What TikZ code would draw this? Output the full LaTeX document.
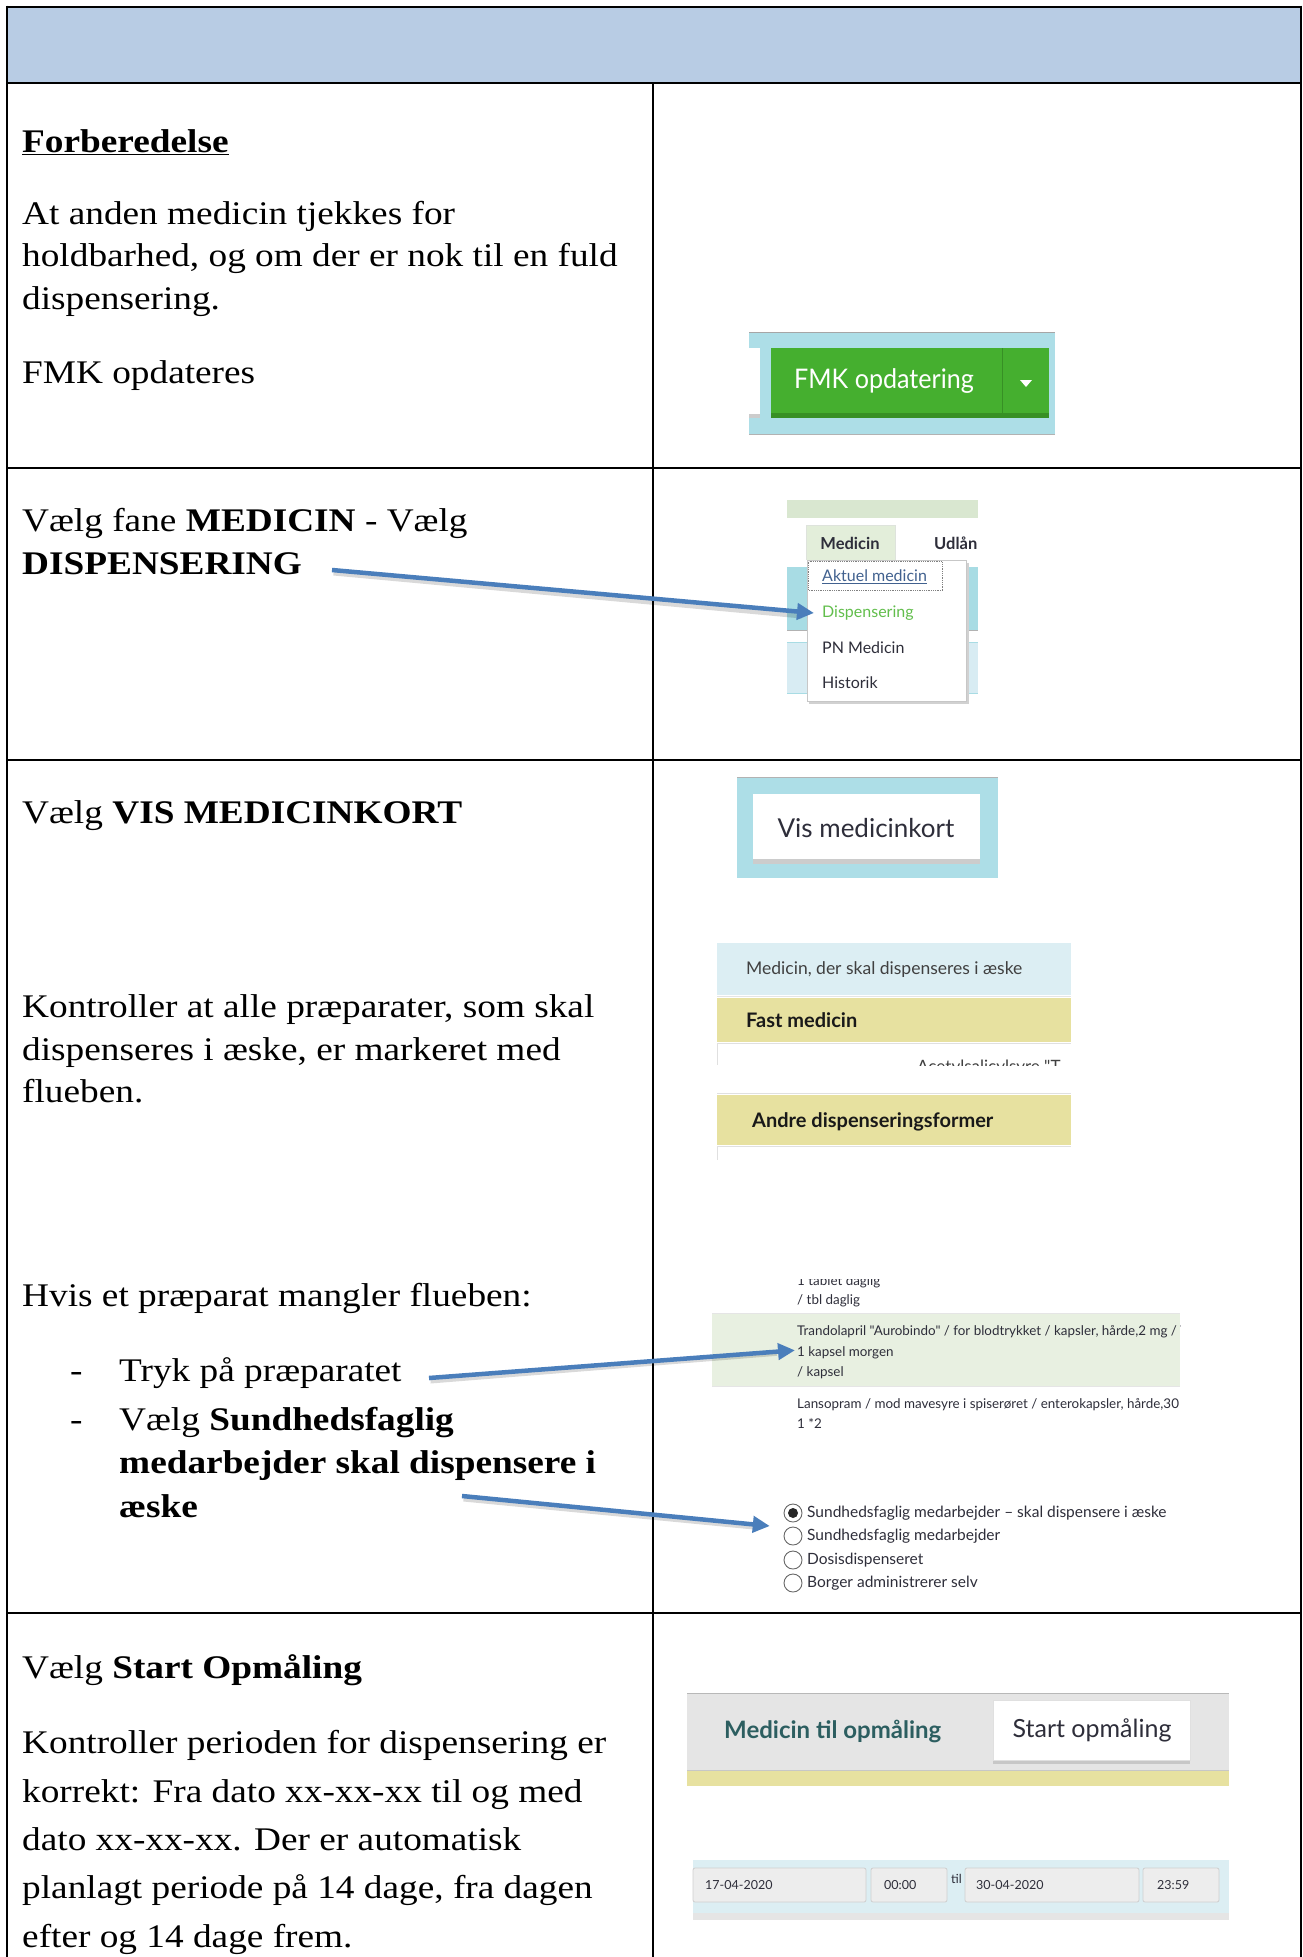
\documentclass[tikz,border=0pt]{standalone}
\usepackage{fontspec}
\usepackage{graphicx}
\setmainfont{Liberation Serif}
\newfontfamily\ui{Lato}
\usetikzlibrary{arrows.meta,calc}
\newcommand{\wideT}[1]{\scalebox{1.13}[1]{#1}}
\definecolor{hdr}{HTML}{B8CCE4}
\definecolor{arr}{HTML}{4A7EBB}
\definecolor{fmkbg}{HTML}{ADDEE7}
\definecolor{fmkgreen}{HTML}{45AF2F}
\definecolor{fmkdark}{HTML}{379025}
\definecolor{topgreen}{HTML}{D9E7D0}
\definecolor{tabgreen}{HTML}{E3EEDA}
\definecolor{tealband}{HTML}{A8DCE4}
\definecolor{paleband}{HTML}{D8ECF3}
\definecolor{linkblue}{HTML}{41618F}
\definecolor{dispgreen}{HTML}{62BE4C}
\definecolor{uitext}{HTML}{2E2E3A}
\definecolor{paleblue}{HTML}{DCEEF3}
\definecolor{uiyellow}{HTML}{E7E1A0}
\definecolor{rowgreen}{HTML}{E8F0E1}
\definecolor{tealtext}{HTML}{2C5E60}
\definecolor{fieldgrey}{HTML}{EDEDED}
\definecolor{fieldline}{HTML}{CFCFCF}
\begin{document}
\begin{tikzpicture}[x=1pt,y=-1pt,
  body/.style={anchor=base west, inner sep=0pt, font=\fontsize{33}{40}\selectfont},
  ui/.style={inner sep=0pt, text=uitext, font=\ui\fontsize{#1}{#1}\selectfont},
  uib/.style={inner sep=0pt, text=uitext, font=\ui\bfseries\fontsize{#1}{#1}\selectfont},
  tbl/.style={line width=2.6pt, black},
  pointer/.style={draw=arr, line width=4.5pt, -{Triangle[length=17pt,width=16pt]}},
  pshadow/.style={draw=black, opacity=0.15, line width=5pt},
  field/.style={draw=fieldline, fill=fieldgrey, rounded corners=2pt, line width=0.8pt}]
\useasboundingbox (0,0) rectangle (1303,1957);
\fill[white] (0,0) rectangle (1303,1957);

% ---------- table ----------
\fill[hdr] (7,7) rectangle (1301,83);
\draw[tbl] (7,7) -- (1301,7);
\draw[tbl] (7,83) -- (1301,83);
\draw[tbl] (7,468) -- (1301,468);
\draw[tbl] (7,760) -- (1301,760);
\draw[tbl] (7,1613) -- (1301,1613);
\draw[tbl] (7,5.7) -- (7,1960);
\draw[tbl] (1301,5.7) -- (1301,1960);
\draw[tbl] (653,83) -- (653,1960);

% ---------- row 1 ----------
\node[body] (t1) at (22,152) {\wideT{\textbf{\underline{Forberedelse}}}};
\node[body] (t2) at (22,224) {\wideT{At anden medicin tjekkes for}};
\node[body] (t3) at (22,266) {\wideT{holdbarhed, og om der er nok til en fuld}};
\node[body] (t4) at (22,309) {\wideT{dispensering.}};
\node[body] (t5) at (22,383) {\wideT{FMK opdateres}};

\fill[fmkbg] (749,332) rectangle (1055,435);
\draw[black!35, line width=1.2pt] (749,332.5) -- (1055,332.5);
\draw[black!30, line width=1pt] (749,434.5) -- (1055,434.5);
\fill[white] (749,348) rectangle (760,414);
\fill[black!20] (749,414) rectangle (760,418);
\fill[fmkgreen] (771,348) rectangle (1049,418);
\fill[fmkdark] (771,413) rectangle (1049,418);
\draw[fmkdark, line width=1pt] (1002,348) -- (1002,413);
\node[inner sep=0pt, text=white, font=\ui\fontsize{27}{27}\selectfont] (fmk) at (884,381) {\scalebox{0.93}[1]{FMK opdatering}};
\fill[white] (1020,380) -- (1032,380) -- (1026,387) -- cycle;

% ---------- row 2 ----------
\node[body] (t6) at (22,531) {\wideT{Vælg fane \textbf{MEDICIN} - Vælg}};
\node[body] (t7) at (22,574) {\wideT{\textbf{DISPENSERING}}};

\fill[topgreen] (787,500) rectangle (978,518);
\fill[tealband] (787,567) rectangle (978,630);
\draw[black!30, line width=1pt] (787,630) -- (978,630);
\fill[paleband] (787,642) rectangle (978,693);
\draw[tealband, line width=1pt] (787,642) -- (978,642);
\draw[tealband, line width=1pt] (787,693) -- (978,693);
\fill[tabgreen] (806,525) rectangle (895,560);
\draw[topgreen!80!black!40, line width=0.6pt] (806,560) -- (806,525) -- (895,525) -- (895,560);
\node[uib=16.5] (tabm) at (850,543) {Medicin};
\begin{scope}
\clip (900,520) rectangle (978,565);
\node[uib=16.5, anchor=west] (tabu) at (934,543) {Udlån};
\end{scope}
\fill[black!18] (809,563) rectangle (969,704);
\filldraw[fill=white, draw=black!22, line width=0.8pt] (807,560) rectangle (966,701);
\draw[black!50, densely dotted, line width=0.8pt] (808.5,561.5) rectangle (942,590);
\node[ui=16, anchor=west, text=linkblue] (akt) at (822,577) {\underline{Aktuel medicin}};
\node[ui=16, anchor=west, text=dispgreen] (disp) at (822,613) {Dispensering};
\node[ui=16, anchor=west] (pn) at (822,648) {PN Medicin};
\node[ui=16, anchor=west] (hist) at (822,683) {Historik};

% ---------- row 3 ----------
\node[body] (t8) at (22,823) {\wideT{Vælg \textbf{VIS MEDICINKORT}}};
\node[body] (t9) at (22,1017) {\wideT{Kontroller at alle præparater, som skal}};
\node[body] (t10) at (22,1060) {\wideT{dispenseres i æske, er markeret med}};
\node[body] (t11) at (22,1102) {\wideT{flueben.}};
\node[body] (t12) at (22,1306) {\wideT{Hvis et præparat mangler flueben:}};
\node[body] (d1) at (70,1381) {\wideT{-}};
\node[body] (t13) at (119,1381) {\wideT{Tryk på præparatet}};
\node[body] (d2) at (70,1430) {\wideT{-}};
\node[body] (t14) at (119,1430) {\wideT{Vælg \textbf{Sundhedsfaglig}}};
\node[body] (t15) at (119,1473) {\wideT{\textbf{medarbejder skal dispensere i}}};
\node[body] (t16) at (119,1517) {\wideT{\textbf{æske}}};

% Vis medicinkort button
\fill[fmkbg] (737,777) rectangle (998,878);
\draw[black!30, line width=1.2pt] (737,777.5) -- (998,777.5);
\fill[black!20] (753,794) rectangle (980,864);
\fill[white] (753,794) rectangle (980,859);
\node[ui=26] (vis) at (866,828) {Vis medicinkort};

% Medicin box
\fill[paleblue] (717,943) rectangle (1071,995);
\fill[uiyellow] (717,998) rectangle (1071,1042);
\draw[black!10, line width=1pt] (717,996.5) -- (1071,996.5);
\draw[black!12, line width=1pt] (717,1043) -- (1071,1043);
\node[ui=17.5, anchor=west, text=black!75] (mdsk) at (746,970) {Medicin, der skal dispenseres i æske};
\node[uib=20, anchor=west, text=black!90] (fast) at (746,1020) {Fast medicin};
\begin{scope}
\clip (717,1044) rectangle (1071,1065);
\node[ui=17, anchor=base west, text=black!75] (acet) at (917,1072) {Acetylsalicylsyre "T};
\end{scope}
\draw[black!12, line width=1pt] (717,1043) -- (717,1065);
\draw[black!12, line width=1pt] (717,1093) -- (1071,1093);
\fill[uiyellow] (717,1095) rectangle (1071,1145);
\draw[black!12, line width=1pt] (717,1146) -- (1071,1146);
\draw[black!12, line width=1pt] (717,1146) -- (717,1160);
\node[uib=20, anchor=west, text=black!90] (andre) at (752,1122) {Andre dispenseringsformer};

% medicine list
\begin{scope}
\clip (705,1279) rectangle (1180,1445);
\fill[rowgreen] (712,1313) rectangle (1180,1386);
\draw[black!10, line width=1pt] (712,1313) -- (1180,1313);
\draw[black!10, line width=1pt] (712,1386.5) -- (1180,1386.5);
\node[ui=13.4, anchor=base west] (l1) at (797,1285) {1 tablet daglig};
\node[ui=13.4, anchor=base west] (l2) at (797,1304) {/ tbl daglig};
\node[ui=13.4, anchor=base west] (l3) at (797,1335) {Trandolapril "Aurobindo" / for blodtrykket / kapsler, hårde,2 mg / Trandolapril};
\node[ui=13.4, anchor=base west] (kap) at (797,1356) {1 kapsel morgen};
\node[ui=13.4, anchor=base west] (l5) at (797,1376) {/ kapsel};
\node[ui=13.4, anchor=base west] (l6) at (797,1408) {Lansopram / mod mavesyre i spiserøret / enterokapsler, hårde,30 mg};
\node[ui=13.4, anchor=base west] (l7) at (797,1428) {1 *2};
\end{scope}

% radio buttons
\filldraw[fill=white, draw=black!60, line width=0.9pt] (793,1513) circle (9);
\fill[black!85] (793,1513) circle (5);
\node[inner sep=0pt, minimum size=18pt] (r1) at (793,1513) {};
\filldraw[fill=white, draw=black!60, line width=0.9pt] (793,1536) circle (9);
\filldraw[fill=white, draw=black!60, line width=0.9pt] (793,1560) circle (9);
\filldraw[fill=white, draw=black!60, line width=0.9pt] (793,1583) circle (9);
\node[ui=15.5, anchor=west] (o1) at (807,1513) {Sundhedsfaglig medarbejder – skal dispensere i æske};
\node[ui=15.5, anchor=west] (o2) at (807,1536) {Sundhedsfaglig medarbejder};
\node[ui=15.5, anchor=west] (o3) at (807,1560) {Dosisdispenseret};
\node[ui=15.5, anchor=west] (o4) at (807,1583) {Borger administrerer selv};

% ---------- row 4 ----------
\node[body] (t17) at (22,1678) {\wideT{Vælg \textbf{Start Opmåling}}};
\node[body] (t18) at (22,1753) {\wideT{Kontroller perioden for dispensering er}};
\node[body] (t19) at (22,1802) {\wideT{korrekt: Fra dato xx-xx-xx til og med}};
\node[body] (t20) at (22,1850) {\wideT{dato xx-xx-xx. Der er automatisk}};
\node[body] (t21) at (22,1898) {\wideT{planlagt periode på 14 dage, fra dagen}};
\node[body] (t22) at (22,1947) {\wideT{efter og 14 dage frem.}};

\fill[black!10] (687,1693) rectangle (1229,1770);
\draw[black!28, line width=1.4pt] (687,1693.5) -- (1229,1693.5);
\draw[black!22, line width=1pt] (687,1770) -- (1229,1770);
\fill[uiyellow] (687,1771) rectangle (1229,1786);
\fill[black!22] (993,1700) rectangle (1190,1764);
\filldraw[fill=white, draw=black!12, line width=0.6pt] (993,1700) rectangle (1190,1760);
\node[uib=24, anchor=west, text=tealtext] (mto) at (724,1731) {Medicin til opmåling};
\node[ui=25] (start) at (1092,1730) {Start opmåling};

\fill[paleblue] (693,1860) rectangle (1229,1913);
\fill[black!10] (693,1913) rectangle (1229,1920);
\draw[field] (693,1868) rectangle (866,1902);
\draw[field] (871,1868) rectangle (947,1902);
\draw[field] (965,1868) rectangle (1139,1902);
\draw[field] (1143,1868) rectangle (1219,1902);
\node[ui=12.5, anchor=west] (f1) at (705,1885) {17-04-2020};
\node[ui=12.5, anchor=west] (f2) at (884,1885) {00:00};
\node[ui=12.5, anchor=west] (til) at (951,1879) {til};
\node[ui=12.5, anchor=west] (f3) at (976,1885) {30-04-2020};
\node[ui=12.5, anchor=west] (f4) at (1157,1885) {23:59};

% ---------- arrows ----------
\coordinate (a1s) at (332,570);
\coordinate (a2s) at (429,1378);
\coordinate (a3s) at (462,1496);
\draw[pshadow] ($(a1s)+(1.5,3)$) -- ($(disp.west)+(-20,3)$);
\draw[pshadow] ($(a2s)+(1.5,3)$) -- ($(kap.west)+(-20,1)$);
\draw[pshadow] ($(a3s)+(1.5,3)$) -- ($(r1.west)+(-30,14)$);
\draw[pointer] (a1s) -- ($(disp.west)+(-8,0)$);
\draw[pointer] (a2s) -- ($(kap.west)+(-2,-2)$);
\draw[pointer] (a3s) -- ($(r1.west)+(-14,13)$);
\end{tikzpicture}
\end{document}
